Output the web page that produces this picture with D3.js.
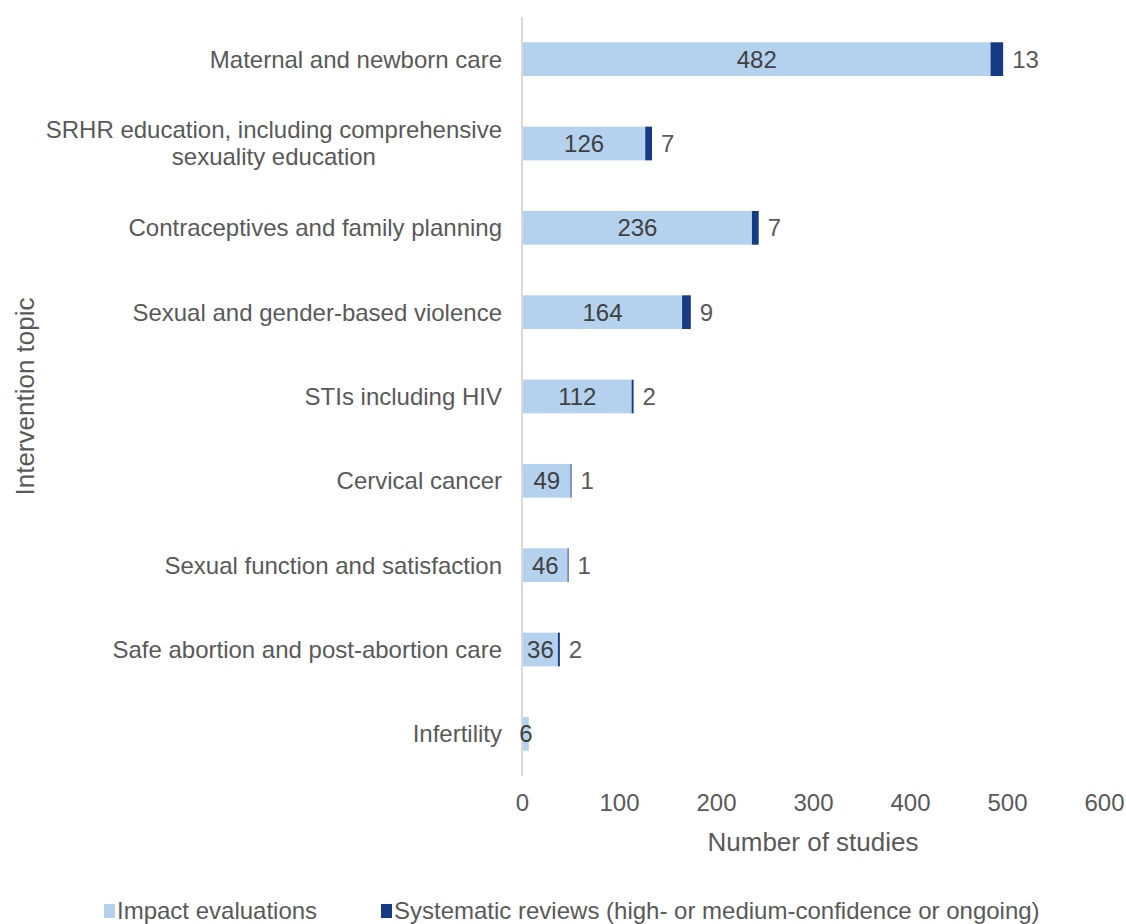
<!DOCTYPE html>
<html>
<head>
<meta charset="utf-8">
<script src="https://cdn.jsdelivr.net/npm/d3@7"></script>
<style>
  body { margin: 0; background: #fff; }
  svg text { font-family: "Liberation Sans", Arial, sans-serif; }
</style>
</head>
<body>
<div id="chart"></div>
<script>
// data
const topics = [
  'Maternal and newborn care',
  'SRHR education, including comprehensive sexuality education',
  'Contraceptives and family planning',
  'Sexual and gender-based violence',
  'STIs including HIV',
  'Cervical cancer',
  'Sexual function and satisfaction',
  'Safe abortion and post-abortion care',
  'Infertility'
];
const impactEvaluations = [482, 126, 236, 164, 112, 49, 46, 36, 6];
const systematicReviews = [13, 7, 7, 9, 2, 1, 1, 2, 0];
const xTicks = [0, 100, 200, 300, 400, 500, 600];
const seriesNames = ['Impact evaluations', 'Systematic reviews (high- or medium-confidence or ongoing)'];
const colors = ['#b4d2ee', '#173a84'];

const width = 1126;
const height = 924;
const margin = { top: 17, right: 22, bottom: 148, left: 522 };

const svg = d3.select('#chart').append('svg')
  .attr('width', width)
  .attr('height', height);

const rows = topics.map((t, i) => ({ topic: t, ie: impactEvaluations[i], sr: systematicReviews[i] }));

// scales
const x = d3.scaleLinear().domain([0, 600]).range([margin.left, width - margin.right]);
const y = d3.scaleBand()
  .domain(topics)
  .range([margin.top, height - margin.bottom])
  .paddingInner(0.6)
  .paddingOuter(0.3);

// vertical axis line
svg.append('line')
  .attr('x1', x(0)).attr('x2', x(0))
  .attr('y1', margin.top).attr('y2', height - margin.bottom)
  .attr('stroke', '#d9d9d9')
  .attr('stroke-width', 2);

// bars
const bar = svg.selectAll('.row')
  .data(rows)
  .enter().append('g')
  .attr('class', 'row');

bar.append('rect')
  .attr('x', x(0) + 1)
  .attr('y', (d) => y(d.topic))
  .attr('width', (d) => x(d.ie) - x(0))
  .attr('height', y.bandwidth())
  .attr('fill', colors[0]);

bar.append('rect')
  .attr('x', (d) => x(d.ie) + 1)
  .attr('y', (d) => y(d.topic))
  .attr('width', (d) => x(d.ie + d.sr) - x(d.ie))
  .attr('height', y.bandwidth())
  .attr('fill', colors[1]);

// labels inside
bar.append('text')
  .attr('x', (d) => (x(0) + x(d.ie)) / 2 + 1)
  .attr('y', (d) => y(d.topic) + y.bandwidth() / 2)
  .attr('dy', '0.35em')
  .attr('text-anchor', 'middle')
  .attr('font-size', 24)
  .attr('fill', '#404040')
  .text((d) => d.ie);

// labels outside
bar.filter((d) => d.sr > 0).append('text')
  .attr('x', (d) => x(d.ie + d.sr) + 10)
  .attr('y', (d) => y(d.topic) + y.bandwidth() / 2)
  .attr('dy', '0.35em')
  .attr('font-size', 24)
  .attr('fill', '#595959')
  .text((d) => d.sr);

// category labels (multi-line labels are centred inside a right-aligned block)
const wrapped = {
  'SRHR education, including comprehensive sexuality education':
    ['SRHR education, including comprehensive', 'sexuality education']
};
svg.append('g').selectAll('text')
  .data(topics)
  .enter().append('text')
  .attr('font-size', 24)
  .attr('fill', '#595959')
  .attr('transform', (d) => `translate(${x(0) - 20}, ${y(d) + y.bandwidth() / 2})`)
  .each(function (d) {
    const lines = wrapped[d] || [d];
    const t = d3.select(this);
    const spans = lines.map((line, i) => t.append('tspan')
      .attr('y', (i - (lines.length - 1) / 2) * 27)
      .attr('dy', '0.35em')
      .text(line));
    const maxW = d3.max(spans, (s) => s.node().getComputedTextLength());
    spans.forEach((s) => {
      s.attr('x', -maxW / 2).attr('text-anchor', 'middle');
    });
  });

// x axis
const xAxis = d3.axisBottom(x).tickValues(xTicks).tickSize(0).tickPadding(0);
const gx = svg.append('g')
  .attr('transform', `translate(0, ${height - margin.bottom + 18})`)
  .call(xAxis);
gx.select('.domain').remove();
gx.selectAll('text')
  .attr('font-size', 24)
  .attr('fill', '#595959')
  .attr('dy', '0.71em');

// axis titles
svg.append('text')
  .attr('x', x(300))
  .attr('y', 842)
  .attr('dy', '0.35em')
  .attr('text-anchor', 'middle')
  .attr('font-size', 26)
  .attr('fill', '#595959')
  .text('Number of studies');

svg.append('text')
  .attr('transform', `translate(25, ${(margin.top + height - margin.bottom) / 2}) rotate(-90)`)
  .attr('dy', '0.35em')
  .attr('text-anchor', 'middle')
  .attr('font-size', 26)
  .attr('fill', '#595959')
  .text('Intervention topic');

// legend
const legendX = [104, 381];
const legend = svg.append('g').selectAll('g')
  .data(seriesNames)
  .enter().append('g')
  .attr('transform', (d, i) => `translate(${legendX[i]}, 911)`);
legend.append('rect')
  .attr('x', 0).attr('y', -7)
  .attr('width', 11).attr('height', 14)
  .attr('fill', (d, i) => colors[i]);
legend.append('text')
  .attr('x', 13)
  .attr('dy', '0.35em')
  .attr('font-size', 24)
  .attr('fill', '#595959')
  .text((d) => d);
</script>
</body>
</html>
